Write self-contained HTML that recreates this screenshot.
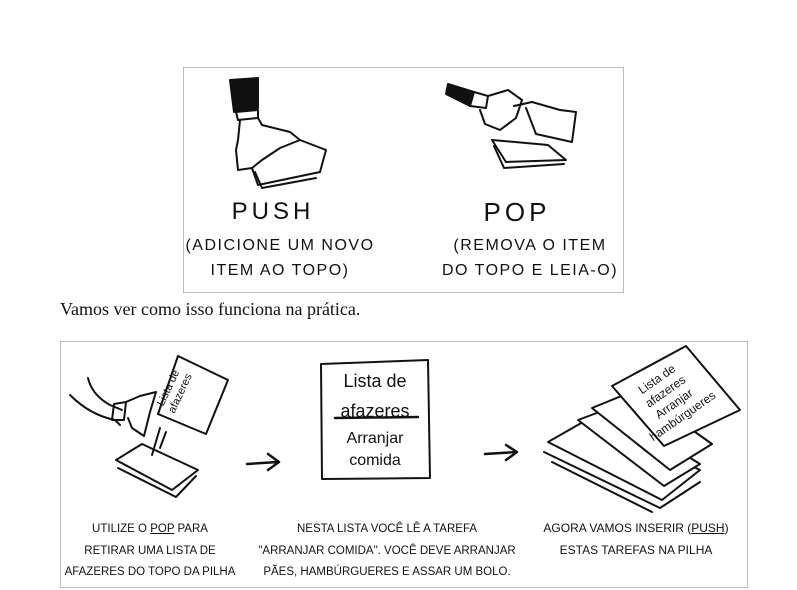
<!DOCTYPE html>
<html><head><meta charset="utf-8"><style>
body{margin:0;width:797px;height:590px;background:#fff;position:relative;overflow:hidden;font-family:"Liberation Sans",sans-serif}
.box{position:absolute;border:1px solid #bbb;background:#fff}
.t{position:absolute;color:#111;text-align:center;white-space:nowrap}
.c{font-size:11.5px;line-height:21.5px;letter-spacing:0}
</style></head><body>
<div class="box" style="left:183px;top:67px;width:439px;height:224px"></div>
<div class="box" style="left:60px;top:341px;width:686px;height:245px"></div>
<svg style="position:absolute;left:0;top:0" width="797" height="590" fill="none" stroke="#111" stroke-width="2" stroke-linejoin="round" stroke-linecap="round">
<path d="M230 80 L258 78 L258 108 L234 112Z" fill="#111"/>
<path d="M236 112 L258 110 L258 118 L238 120Z"/>
<path d="M240 120 L238 140 L236 150 L238 170 L252 168 L262 160 L280 148 L300 140 L290 132 L262 125 L258 118"/>
<path d="M252 168 L258 185 L320 172 L326 150 L300 140"/>
<path d="M255 172 L262 188 L316 178"/>
<path d="M448 84 L474 92 L470 106 L446 94Z" fill="#111"/>
<path d="M474 92 L488 96 L486 108 L470 106"/>
<path d="M488 96 L508 90 L522 100 L516 118 L500 130 L485 124 L480 110"/>
<path d="M514 106 L532 102 L560 110 L576 112 L572 142 L536 134 L526 108"/>
<path d="M492 140 L548 145 L566 160 L506 162Z"/>
<path d="M494 146 L504 168 L564 164"/>
<path d="M88 378 Q92 395 110 405 L122 410 M70 395 Q90 415 115 420 L120 425"/>
<path d="M114 404 L126 402 L124 420 L112 420Z"/>
<path d="M126 402 L140 396 L156 392 L150 412 L144 436 L132 428 L128 418"/>
<path d="M178 356 L228 380 L206 434 L158 414Z"/>
<path d="M142 444 L198 470 L172 490 L116 460Z"/>
<path d="M118 468 L176 497 L196 476"/>
<path d="M160 428 L152 455 M166 432 L160 448"/>
<path d="M247 464 L278 462 M268 454 L279 462 L268 470" stroke-width="2.5"/>
<path d="M485 454 L516 452 M506 445 L517 452 L506 460" stroke-width="2.5"/>
<path d="M321 364 L428 360 L430 478 L322 479Z"/>
<path d="M335 418 L418 417" stroke-width="2.5"/>
<path d="M548 442 L590 418 L700 470 L662 500Z"/>
<path d="M544 452 L660 508 L700 482"/>
<path d="M552 462 L652 512"/>
<path d="M578 420 L610 408 L700 464 L664 486Z" fill="#fff"/>
<path d="M592 408 L636 390 L712 444 L670 470Z" fill="#fff"/>
<path d="M612 386 L686 346 L740 410 L664 446Z" fill="#fff"/>
</svg>
<div class="t" style="left:218px;top:198px;width:110px;font-size:24px;letter-spacing:4px">PUSH</div>
<div class="t" style="left:160px;top:233px;width:240px;font-size:16px;line-height:25px;letter-spacing:1.5px">(ADICIONE UM NOVO<br>ITEM AO TOPO)</div>
<div class="t" style="left:467px;top:197px;width:100px;font-size:26px;letter-spacing:4px">POP</div>
<div class="t" style="left:410px;top:233px;width:240px;font-size:16px;line-height:25px;letter-spacing:1.5px">(REMOVA O ITEM<br>DO TOPO E LEIA-O)</div>
<div style="position:absolute;left:60px;top:299px;font-family:'Liberation Serif',serif;font-size:18px;color:#111">Vamos ver como isso funciona na prática.</div>
<div class="t" style="left:320px;top:366px;width:110px;font-size:18px;line-height:30px">Lista de<br>afazeres</div>
<div class="t" style="left:320px;top:428px;width:110px;font-size:16px;line-height:22px">Arranjar<br>comida</div>
<div class="t" style="left:140px;top:378px;width:70px;font-size:11px;transform:rotate(-65deg);line-height:13px">Lista de<br>afazeres</div>
<div class="t" style="left:630px;top:368px;width:80px;font-size:12px;transform:rotate(-35deg);line-height:15px">Lista de<br>afazeres<br>Arranjar<br>hambúrgueres</div>
<div class="t c" style="left:60px;top:519px;width:180px">UTILIZE O <u>POP</u> PARA<br>RETIRAR UMA LISTA DE<br>AFAZERES DO TOPO DA PILHA</div>
<div class="t c" style="left:257px;top:519px;width:260px">NESTA LISTA VOCÊ LÊ A TAREFA<br>"ARRANJAR COMIDA". VOCÊ DEVE ARRANJAR<br>PÃES, HAMBÚRGUERES E ASSAR UM BOLO.</div>
<div class="t c" style="left:536px;top:518px;width:200px;font-size:12px">AGORA VAMOS INSERIR (<u>PUSH</u>)<br>ESTAS TAREFAS NA PILHA</div>
</body></html>
